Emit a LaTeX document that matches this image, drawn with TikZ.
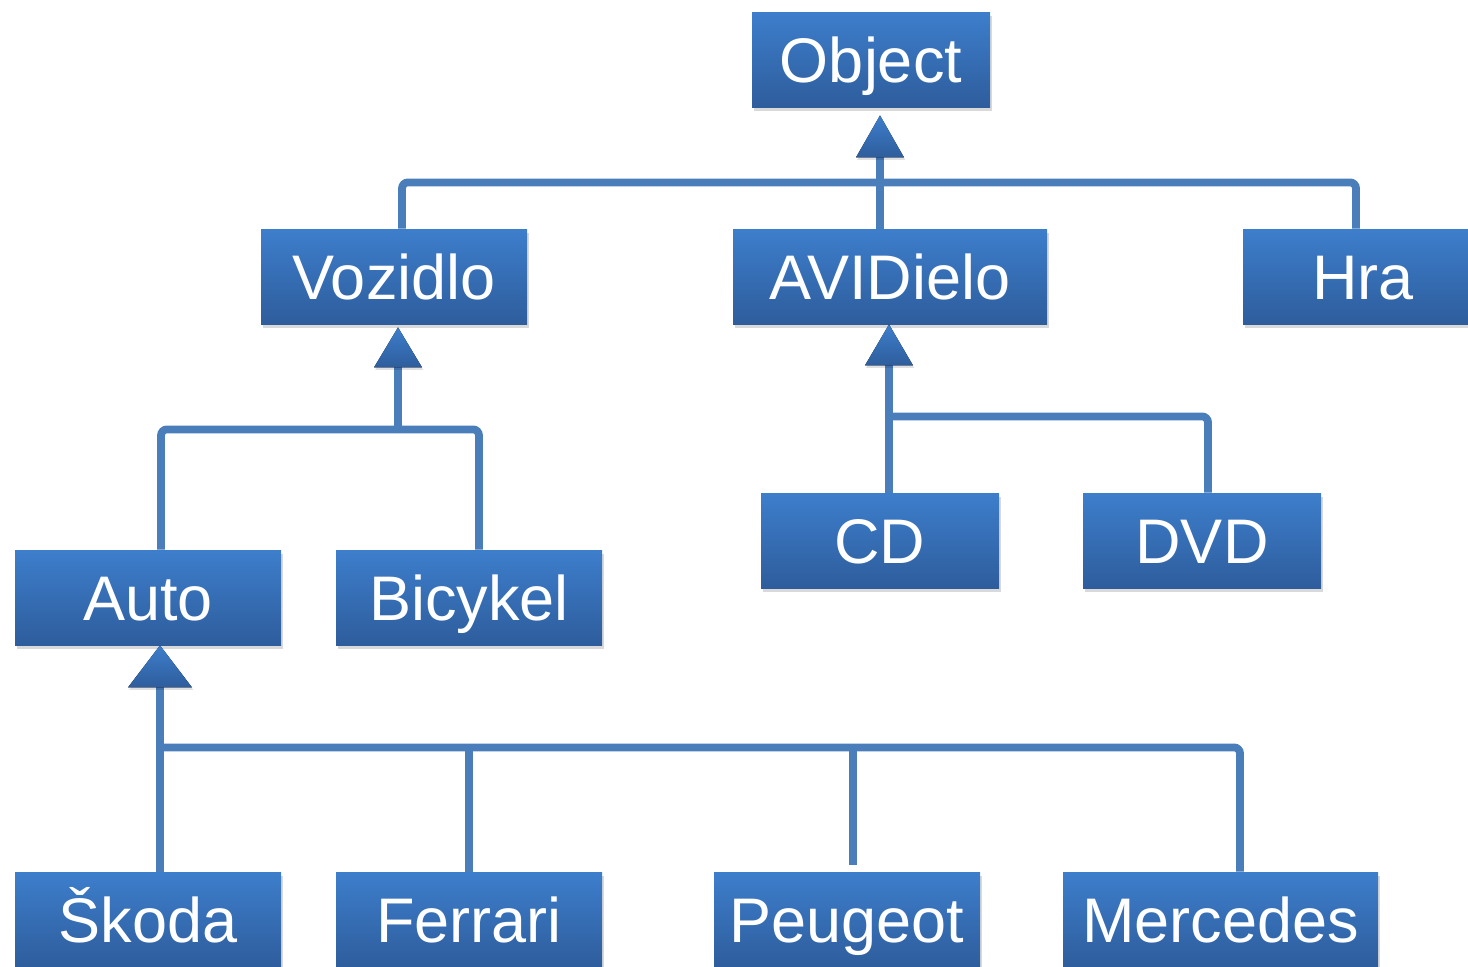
\documentclass[tikz,border=0pt]{standalone}
\usepackage{fontspec}
\setmainfont{Liberation Sans}
\usetikzlibrary{shadows,calc}
\definecolor{boxtop}{HTML}{3D7ECC}
\definecolor{boxbot}{HTML}{2E5D9C}
\definecolor{linec}{HTML}{4A7EBB}
\begin{document}
\begin{tikzpicture}[x=0.5pt,y=-0.5pt,
  box/.style={draw=none, top color=boxtop, bottom color=boxbot, inner sep=0pt,
    minimum height=47.5pt, text=white, font=\fontsize{31.5}{36}\selectfont,
    text height=22.5pt, text depth=0pt,
    drop shadow={shadow xshift=0.8pt, shadow yshift=-1.8pt, opacity=0.15, fill=black}},
  conn/.style={draw=linec, line width=3.9pt, rounded corners=3pt},
  tri/.style={top color=boxtop, bottom color=boxbot, draw=none,
    drop shadow={shadow xshift=0.6pt, shadow yshift=-1.2pt, opacity=0.12, fill=black}}]
\useasboundingbox (0,0) rectangle (1468,966);
\clip (0,0) rectangle (1468,966);

% boxes
\node[box, minimum width=119pt] (obj) at (871,59.5) {Object};
\node[box, minimum width=133pt] (voz) at (394,276.5) {Vozidlo};
\node[box, minimum width=157pt] (avi) at (890,276.5) {AVIDielo};
\node[box, minimum width=120pt] (hra) at (1363,276.5) {Hra};
\node[box, minimum width=119pt] (cd) at (880,540.5) {CD};
\node[box, minimum width=119pt] (dvd) at (1202,540.5) {DVD};
\node[box, minimum width=133pt] (auto) at (148,597.5) {Auto};
\node[box, minimum width=133pt] (bic) at (469,597.5) {Bicykel};
\node[box, minimum width=133pt] (sko) at (148,919.5) {Škoda};
\node[box, minimum width=133pt] (fer) at (469,919.5) {Ferrari};
\node[box, minimum width=133pt] (peu) at (847,919.5) {Peugeot};
\node[box, minimum width=157.5pt] (mer) at (1220.5,919.5) {Mercedes};

% group 1: Object
\coordinate (t1) at ($(obj.south)+(9,8)$);
\coordinate (b1) at ($(t1)+(0,42)$);
\coordinate (bar1) at ($(b1)+(0,25)$);
\draw[conn] ($(voz.north)+(8,0)$) |- (bar1) -| ($(hra.north)+(-7,0)$);
\draw[conn] (b1) -- (b1 |- avi.north);
\fill[tri] (t1) -- ($(b1)+(-24,0)$) -- ($(b1)+(24,0)$) -- cycle;

% group 2: Vozidlo
\coordinate (t2) at ($(voz.south)+(4,3)$);
\coordinate (b2) at ($(t2)+(0,40)$);
\coordinate (bar2) at ($(b2)+(0,62)$);
\draw[conn] ($(auto.north)+(13,0)$) |- (bar2) -| ($(bic.north)+(10,0)$);
\draw[conn] (b2) -- (bar2);
\fill[tri] (t2) -- ($(b2)+(-24,0)$) -- ($(b2)+(24,0)$) -- cycle;

% group 3: AVIDielo
\coordinate (t3) at ($(avi.south)+(-1,0)$);
\coordinate (b3) at ($(t3)+(0,41)$);
\coordinate (bar3) at ($(b3)+(0,51)$);
\draw[conn] (b3) -- (b3 |- cd.north);
\draw[conn] (bar3) -| ($(dvd.north)+(6,0)$);
\fill[tri] (t3) -- ($(b3)+(-24,0)$) -- ($(b3)+(24,0)$) -- cycle;

% group 4: Auto
\coordinate (t4) at ($(auto.south)+(12,0)$);
\coordinate (b4) at ($(t4)+(0,42)$);
\coordinate (bar4) at ($(b4)+(0,60)$);
\coordinate (peutop) at ($(peu.north)+(6,-7)$);
\draw[conn] (b4) -- (b4 |- sko.north);
\draw[conn] (bar4) -| ($(mer.north)+(19.5,0)$);
\draw[conn] (fer.north) -- (fer.north |- bar4);
\draw[conn] (peutop) -- (peutop |- bar4);
\fill[tri] (t4) -- ($(b4)+(-32,0)$) -- ($(b4)+(32,0)$) -- cycle;
\end{tikzpicture}
\end{document}
